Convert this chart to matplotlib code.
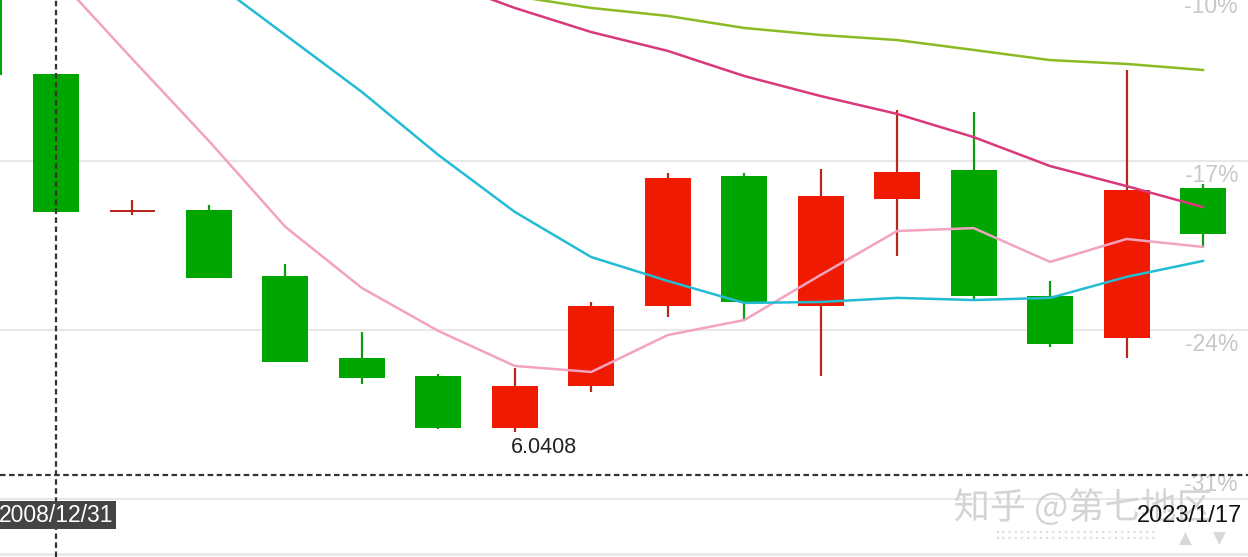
import matplotlib
matplotlib.use("Agg")
import matplotlib.pyplot as plt
import matplotlib.patheffects as pe
from matplotlib.transforms import blended_transform_factory
import numpy as np

plt.rcParams['font.family'] = ['Liberation Sans', 'Noto Sans CJK SC', 'DejaVu Sans']
plt.rcParams['lines.scale_dashes'] = False

# ---------------- data (percent) ----------------
opens  = [-9.00, -13.40, -19.07, -19.03, -21.76, -25.16, -25.91, -28.06, -26.32, -23.01,
          -17.62, -23.01, -18.57, -17.37, -22.59, -24.33, -18.12]
highs  = [-8.80, -13.40, -18.62, -18.82, -21.27, -24.08, -25.82, -25.57, -22.84, -17.50,
          -17.50, -17.33, -14.89, -14.97, -21.97, -13.23, -17.95]
lows   = [-13.44, -19.11, -19.24, -21.85, -25.33, -26.24, -28.10, -28.22, -26.57, -23.46,
          -23.59, -25.91, -20.93, -22.72, -24.70, -25.16, -20.60]
closes = [-13.44, -19.11, -19.05, -21.85, -25.33, -25.99, -28.06, -26.32, -23.01, -17.70,
          -22.84, -18.45, -17.46, -22.59, -24.58, -18.20, -20.02]

ma_pink = [np.nan, -9.34, -12.78, -16.17, -19.73, -22.26, -24.04, -25.49, -25.74, -24.21,
           -23.59, -21.72, -19.90, -19.78, -21.18, -20.23, -20.56]
ma_cyan = [np.nan, np.nan, np.nan, -9.42, -11.78, -14.14, -16.75, -19.11, -20.98, -21.97,
           -22.88, -22.84, -22.67, -22.76, -22.67, -21.80, -21.14]
ma_magenta = [np.nan, np.nan, np.nan, np.nan, np.nan, np.nan, -9.50, -10.66, -11.66, -12.44,
              -13.48, -14.31, -15.05, -16.01, -17.21, -18.04, -18.91]
ma_olive = [np.nan, np.nan, np.nan, np.nan, np.nan, np.nan, np.nan, -10.17, -10.66, -10.99,
            -11.49, -11.78, -11.99, -12.40, -12.82, -12.98, -13.23]

y_ticks = [-10, -17, -24, -31]
y_tick_labels = ["-10%", "-17%", "-24%", "-31%"]
date_labels = ["2008/12/31", "2023/1/17"]
low_label = "6.0408"
low_index = 7
cross_index = 1
cross_value = -30.0
watermark = "知乎 @第七地区"

# ---------------- figure ----------------
fig = plt.figure(figsize=(12.48, 5.57), dpi=100)
ax = fig.add_axes([0, 0, 1, 1])
ax.set_xlim(0.2677, 16.588)
ax.set_ylim(-33.404, -10.331)
ax.axis('off')

x = np.arange(len(opens))

UP_BODY = '#f01a00'
UP_WICK = '#b8261c'
DN_BODY = '#00a600'
DN_WICK = '#109c10'

# grid lines
for t in y_ticks:
    ax.axhline(t, color='#e8e8e8', lw=1.5, zorder=0)
ax.axhline(-33.28, color='#e8e8e8', lw=2, zorder=0)

# candles
width = 0.60
for i in x:
    o, h, l, c = opens[i], highs[i], lows[i], closes[i]
    up = c >= o
    body_c = UP_BODY if up else DN_BODY
    wick_c = UP_WICK if up else DN_WICK
    ax.vlines(i, l, h, color=wick_c, lw=1.6, zorder=2)
    bottom = min(o, c)
    height = max(abs(c - o), 0.10)
    if abs(c - o) < 0.1:
        ax.bar(i, height, width, bottom=(o + c) / 2 - height / 2, color=wick_c, zorder=3, linewidth=0)
    else:
        ax.bar(i, height, width, bottom=bottom, color=body_c, zorder=3, linewidth=0)

# moving averages
ax.plot(x, ma_pink, color='#f2a3bf', lw=1.8, zorder=4)
ax.plot(x, ma_cyan, color='#22bcd4', lw=1.8, zorder=4)
ax.plot(x, ma_magenta, color='#d9387a', lw=1.8, zorder=4)
ax.plot(x, ma_olive, color='#8cba24', lw=1.8, zorder=4)

# y labels (right side)
ytrans = blended_transform_factory(ax.transAxes, ax.transData)
for t, lab in zip(y_ticks, y_tick_labels):
    if t == y_ticks[-1]:
        ax.annotate(lab, (0.992, t), xycoords=ytrans, xytext=(0, 2), textcoords='offset points',
                    ha='right', va='bottom', color='#c8c8c8', fontsize=16.5, zorder=5)
    else:
        ax.annotate(lab, (0.992, t), xycoords=ytrans, xytext=(0, -2), textcoords='offset points',
                    ha='right', va='top', color='#c8c8c8', fontsize=16.5, zorder=5)

# low price label
ax.annotate(low_label, (low_index, lows[low_index]), xytext=(-3, -4), textcoords='offset points',
            ha='left', va='top', fontsize=15.5, color='#222222', zorder=6)

# watermark
xtrans = blended_transform_factory(ax.transData, ax.transAxes)
ax.text(0.868, 0.088, watermark, transform=ax.transAxes, ha='center', va='center',
        fontsize=26, color='#d4d4d4', family=['Noto Sans CJK SC', 'DejaVu Sans'], zorder=7,
        path_effects=[pe.SimpleLineShadow(offset=(1.0, -1.0), shadow_color='#a6a6a6', alpha=1.0),
                      pe.Normal()])
for yy in (0.031, 0.043):
    ax.text(0.927, yy, '·' * 26, transform=ax.transAxes, ha='right', va='center',
            fontsize=14, color='#dcdcdc', zorder=7, family=['DejaVu Sans'])
ax.text(0.950, 0.032, '▲', transform=ax.transAxes, ha='center', va='center',
        fontsize=12, color='#d8d8d8', zorder=7, family=['DejaVu Sans'])
ax.text(0.977, 0.032, '▼', transform=ax.transAxes, ha='center', va='center',
        fontsize=12, color='#d8d8d8', zorder=7, family=['DejaVu Sans'])

# crosshair
ax.axvline(cross_index, color='#333333', lw=1.6, dashes=(4, 2.5), zorder=8)
ax.axhline(cross_value, color='#333333', lw=1.6, dashes=(4, 2.5), zorder=8)

# date labels
ax.text(cross_index, 0.075, date_labels[0], transform=xtrans, ha='center', va='center',
        fontsize=16.5, color='white', zorder=9,
        bbox=dict(boxstyle='square,pad=0.12', facecolor='#444444', edgecolor='none'))
ax.text(0.995, 0.073, date_labels[1], transform=ax.transAxes, ha='right', va='center',
        fontsize=17, color='#111111', zorder=9)

fig.savefig('out.png', dpi=100)
